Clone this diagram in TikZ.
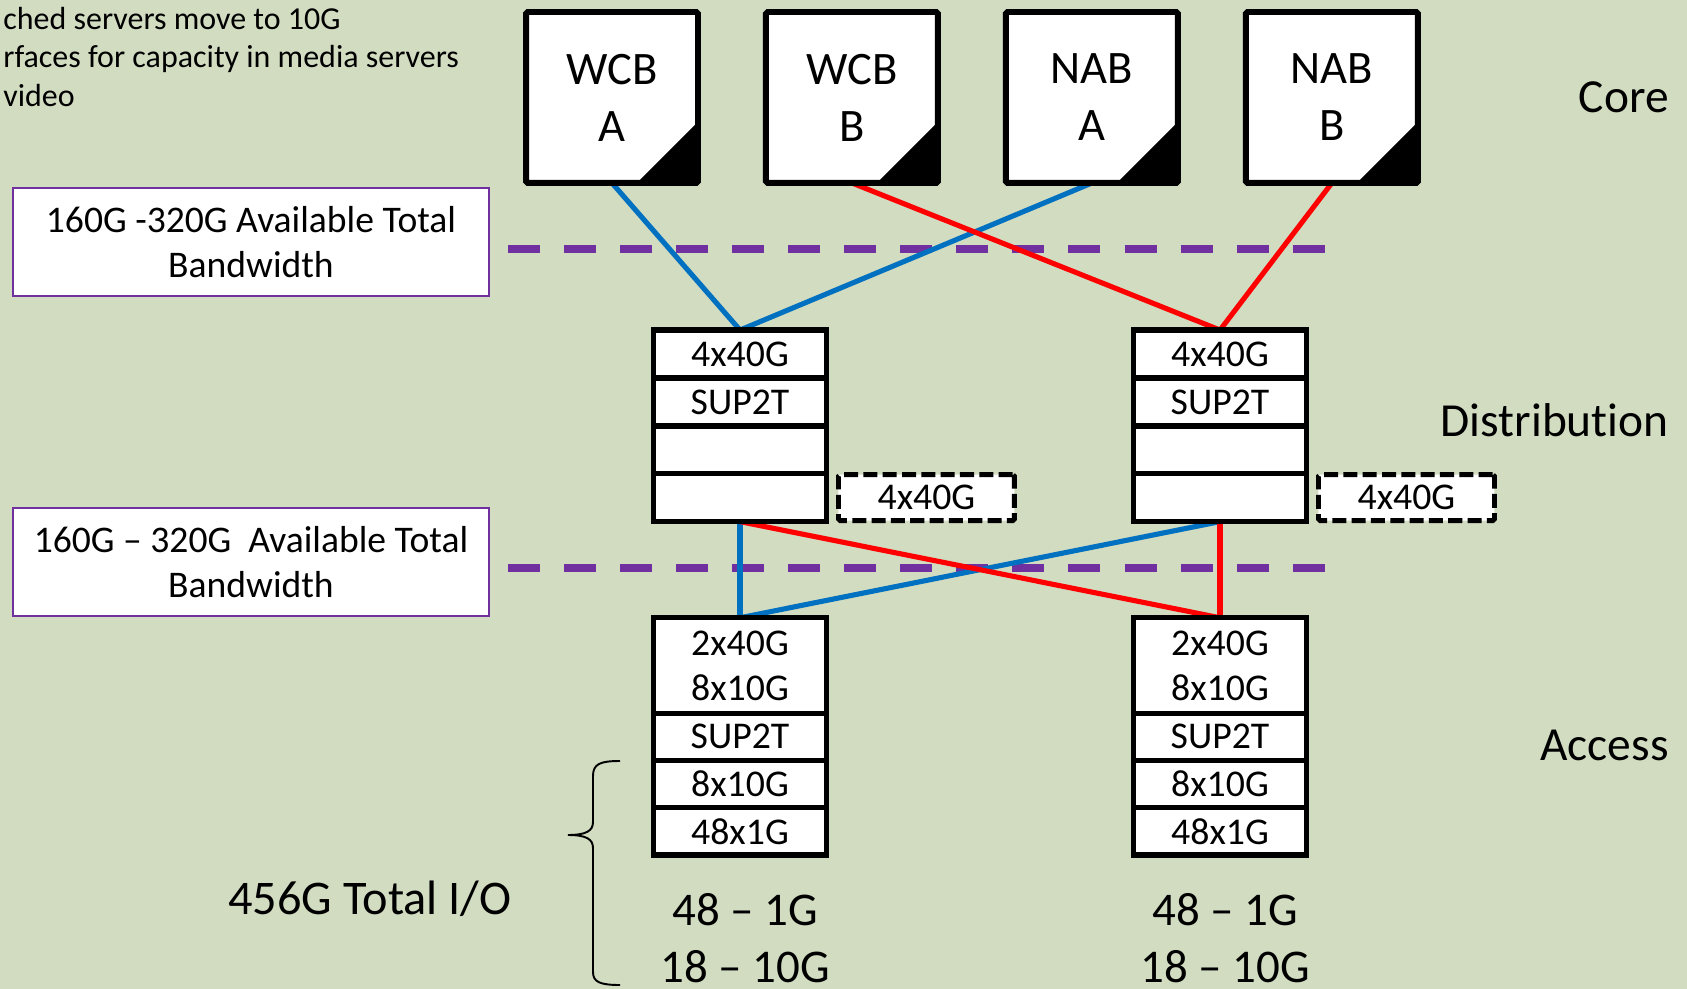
\documentclass[tikz,border=0pt]{standalone}
\usepackage{fontspec}
\setmainfont[Ligatures={TeX,NoCommon}]{Carlito}
\usetikzlibrary{positioning,backgrounds}
\definecolor{slide}{RGB}{209,220,193}
\definecolor{linkblue}{RGB}{0,112,192}
\definecolor{linkred}{RGB}{255,0,0}
\definecolor{bwpurple}{RGB}{112,48,160}
\begin{document}
\begin{tikzpicture}[x=0.02cm, y=-0.02cm,
    core/.style={draw, line width=3.4pt, fill=white, rounded corners=1pt, outer sep=0, inner sep=0, minimum width=3.44cm, minimum height=3.42cm, align=center, font=\fontsize{26.5}{32.4}\selectfont},
    slot/.style={draw, line width=3.1pt, fill=white, outer sep=0, inner sep=0, minimum width=3.47cm, minimum height=0.958cm, align=center, font=\fontsize{21.5}{25.6}\selectfont},
    spare/.style={draw, line width=2.8pt, dash pattern=on 8pt off 3pt, fill=white, rounded corners=1pt, outer sep=0, inner sep=0, minimum width=3.52cm, minimum height=0.92cm, font=\fontsize{21.5}{25.6}\selectfont},
    bwbox/.style={draw=bwpurple, line width=1.1pt, fill=white, minimum width=9.52cm, minimum height=2.16cm, align=center, font=\fontsize{21.4}{25.9}\selectfont},
    bwline/.style={bwpurple, line width=4.5pt, dash pattern=on 18.2pt off 13.7pt},
    bluelink/.style={linkblue, line width=2.9pt},
    redlink/.style={linkred, line width=2.9pt},
    layer/.style={anchor=east, inner sep=0, font=\fontsize{27}{32}\selectfont},
    tally/.style={align=center, inner sep=0, font=\fontsize{26.7}{32.4}\selectfont}]
    \useasboundingbox (0,0) rectangle (1687,989);
    \begin{scope}[on background layer]
        \fill[slide] (0,0) rectangle (1687,989);
    \end{scope}

    \node[anchor=west, inner sep=0, align=left, font=\fontsize{18.2}{21.9}\selectfont] (note) at (3,57) {ched servers move to 10G\\rfaces for capacity in media servers\\video};

    \node[core] (wcba) at (612,97.5) {WCB\\A};
    \node[core, right=1.36cm of wcba] (wcbb) {WCB\\B};
    \node[core, right=1.36cm of wcbb] (naba) {NAB\\A};
    \node[core, right=1.36cm of naba] (nabb) {NAB\\B};
    \foreach \n in {wcba,wcbb,naba,nabb}
        \fill (\n.south east) -- ++(-61,0) -- ++(61,-61) -- cycle;

    \node[bwbox] (bwtop) at (251,242) {160G -320G Available Total\\Bandwidth};
    \node[bwbox] (bwlow) at (251,562) {160G -- 320G~~Available Total\\Bandwidth};

    \node[slot] (ld1) at (740,354) {4x40G};
    \node[slot, below=0pt of ld1] (ld2) {SUP2T};
    \node[slot, below=0pt of ld2] (ld3) {};
    \node[slot, below=0pt of ld3] (ld4) {};
    \node[spare, right=0.235cm of ld4] (lspare) {4x40G};

    \node[slot] (rd1) at (1220,354) {4x40G};
    \node[slot, below=0pt of rd1] (rd2) {SUP2T};
    \node[slot, below=0pt of rd2] (rd3) {};
    \node[slot, below=0pt of rd3] (rd4) {};
    \node[spare, right=0.235cm of rd4] (rspare) {4x40G};

    \node[slot, minimum height=1.91cm] (la1) at (740,665.5) {2x40G\\8x10G};
    \node[slot, minimum height=0.945cm, below=0pt of la1] (la2) {SUP2T};
    \node[slot, minimum height=0.945cm, below=0pt of la2] (la3) {8x10G};
    \node[slot, minimum height=0.945cm, below=0pt of la3] (la4) {48x1G};

    \node[slot, minimum height=1.91cm] (ra1) at (1220,665.5) {2x40G\\8x10G};
    \node[slot, minimum height=0.945cm, below=0pt of ra1] (ra2) {SUP2T};
    \node[slot, minimum height=0.945cm, below=0pt of ra2] (ra3) {8x10G};
    \node[slot, minimum height=0.945cm, below=0pt of ra3] (ra4) {48x1G};

    \node[tally] (ltally) at (745,938) {48 -- 1G\\18 -- 10G};
    \node[tally] (rtally) at (1225,938) {48 -- 1G\\18 -- 10G};

    \node[layer] (corelbl) at (1669,97) {Core};
    \node[layer] (distlbl) at (1669,420) {Distribution};
    \node[layer] (acclbl) at (1669,745) {Access};

    \draw[line width=1.1pt] (620,761) .. controls (600,761) and (593,764) .. (593,776) -- (593,822) .. controls (593,831) and (586,835) .. (568,835) .. controls (586,835) and (593,839) .. (593,848) -- (593,972) .. controls (593,982) and (600,985) .. (620,985);
    \node[inner sep=0, font=\fontsize{27.5}{32}\selectfont] (io) at (370,899) {456G Total I/O};

    \begin{scope}[on background layer]
        \draw[bwline] (508,249) -- (1325,249);
        \draw[bwline] (508,568) -- (1325,568);
        \draw[bluelink] (wcba.south) -- (ld1.north);
        \draw[bluelink] (naba.south) -- (ld1.north);
        \draw[redlink] (wcbb.south) -- (rd1.north);
        \draw[redlink] (nabb.south) -- (rd1.north);
        \draw[bluelink] (ld4.south) -- (la1.north);
        \draw[bluelink] (rd4.south) -- (la1.north);
        \draw[redlink] (ld4.south) -- (ra1.north);
        \draw[redlink] (rd4.south) -- (ra1.north);
    \end{scope}
\end{tikzpicture}
\end{document}
